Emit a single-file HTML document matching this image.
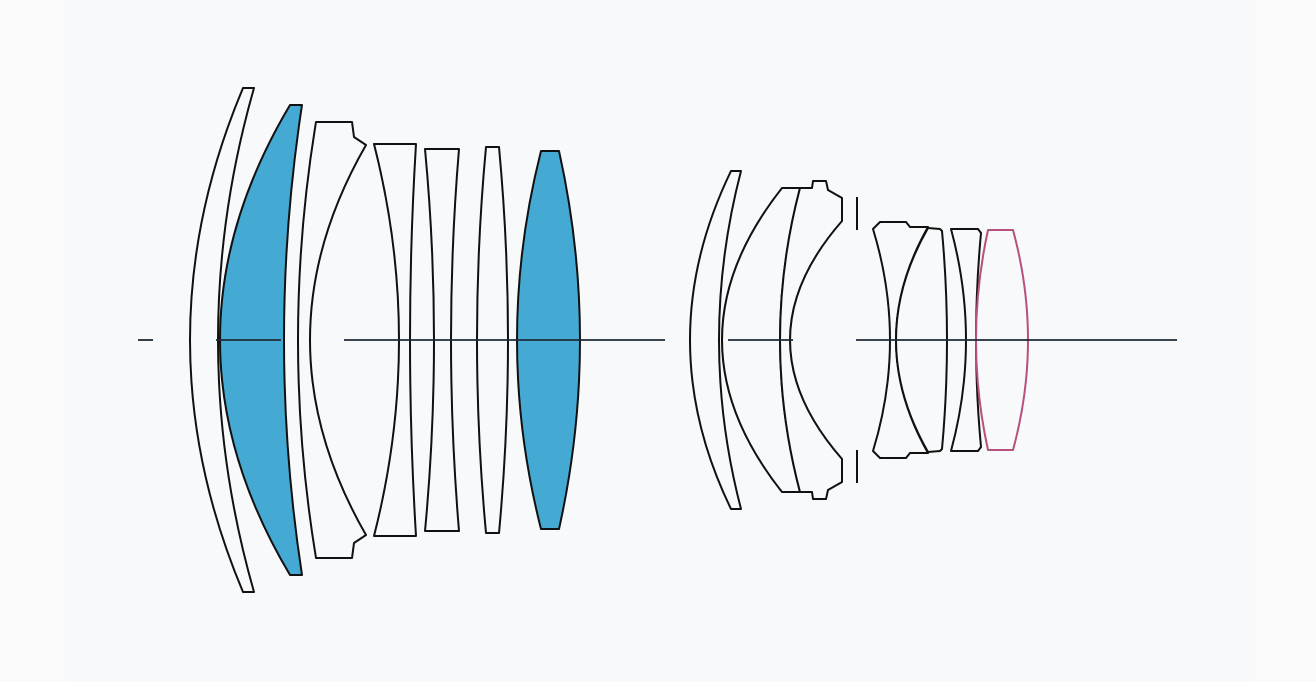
<!DOCTYPE html>
<html><head><meta charset="utf-8"><style>
html,body{margin:0;padding:0;background:#fafafa;}
svg{display:block;}
</style></head><body>
<svg width="1316" height="682" viewBox="0 0 1316 682" xmlns="http://www.w3.org/2000/svg">
<rect width="1316" height="682" fill="#fafafa"/>
<rect x="65" y="0" width="1186" height="682" fill="#f8f9fa"/>
<g fill="#f8f9fa" stroke="#111" stroke-width="2" stroke-linejoin="round">
<path d="M243,88 Q137,340 243,592 L254,592 Q182,340 254,88 Z"/>
<path fill="#44a9d3" d="M290,105 L302,105 Q266,340 302,575 L290,575 Q150,340 290,105 Z"/>
<path d="M316,122 L352,122 L354,137 L366,145 Q254,340 366,535 L354,543 L352,558 L316,558 Q280,340 316,122 Z"/>
<path d="M374,144 L416,144 Q404,340 416,536 L374,536 Q424,340 374,144 Z"/>
<path d="M425,149 L459,149 Q443,340 459,531 L425,531 Q443,340 425,149 Z"/>
<path d="M486,147 L499,147 Q517,340 499,533 L486,533 Q468,340 486,147 Z"/>
<path fill="#44a9d3" d="M541,151 L559,151 Q601,340 559,529 L541,529 Q493,340 541,151 Z"/>
<path d="M731,171 L741,171 Q697,340 741,509 L731,509 Q649,340 731,171 Z"/>
<path d="M782,188 L800,188 Q760,340 800,492 L782,492 Q662,340 782,188 Z"/>
<path d="M800,188 L812,188 L813,181 L826,181 L828,190 L842,198 L842,221 Q738,340 842,459 L842,482 L828,490 L826,499 L813,499 L812,492 L800,492 Q760,340 800,188 Z"/>
<path d="M873,229 L880,222 L906,222 L910,227 L928,227 Q864,340 928,453 L910,453 L906,458 L880,458 L873,451 Q907,340 873,229 Z"/>
<path d="M928,228 L940,229 L942,231 Q952,340 942,449 L940,451 L928,452 Q864,340 928,228 Z"/>
<path d="M951,229 L978,229 L981,233 Q971,340 981,447 L978,451 L951,451 Q981,340 951,229 Z"/>
<path stroke="#b5507f" d="M988,230 L1013,230 Q1043,340 1013,450 L988,450 Q964,340 988,230 Z"/>
<path fill="none" d="M857,197 L857,230 M857,450 L857,483"/>
</g>
<g stroke="#1f2a36" stroke-width="1.8">
<line x1="138" y1="340" x2="153" y2="340"/>
<line x1="216" y1="340" x2="281" y2="340"/>
<line x1="344" y1="340" x2="665" y2="340"/>
<line x1="728" y1="340" x2="793" y2="340"/>
<line x1="856" y1="340" x2="1177" y2="340"/>
</g>
</svg>
</body></html>
